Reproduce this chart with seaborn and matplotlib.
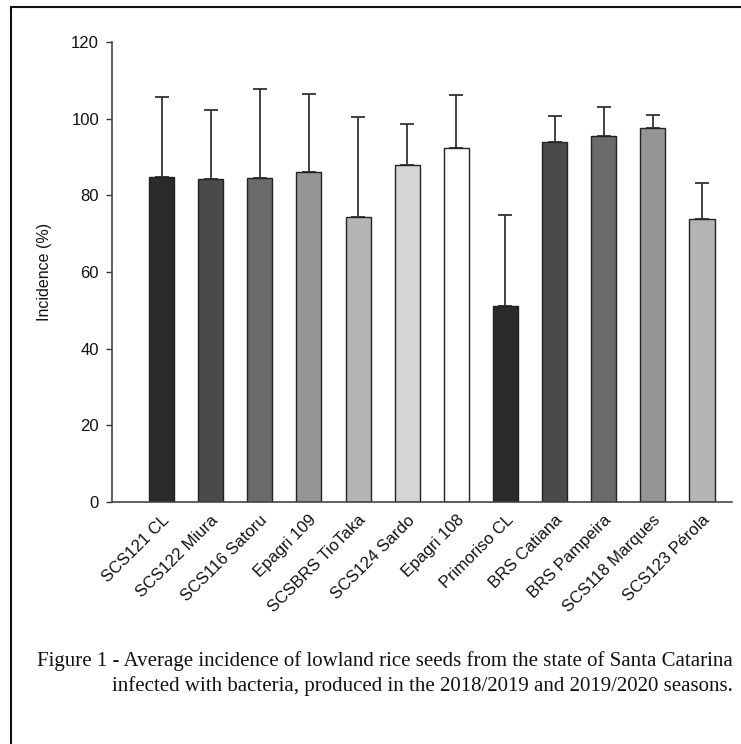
import numpy as np
import pandas as pd
import matplotlib
matplotlib.use("Agg")
import matplotlib.pyplot as plt
from matplotlib.lines import Line2D
import seaborn as sns


cultivars = ["SCS121 CL", "SCS122 Miura", "SCS116 Satoru", "Epagri 109",
             "SCSBRS TioTaka", "SCS124 Sardo", "Epagri 108", "Primoriso CL",
             "BRS Catiana", "BRS Pampeira", "SCS118 Marques", "SCS123 Pérola"]
incidence = [84.8, 84.3, 84.5, 86.0, 74.3, 87.8, 92.4, 51.2, 93.8, 95.6, 97.6, 73.8]
error_up = [20.9, 18.0, 23.3, 20.5, 26.2, 10.9, 13.7, 23.6, 7.0, 7.4, 3.3, 9.5]
bar_colors = ["#2b2b2b", "#4a4a4a", "#6a6a6a", "#959595", "#b5b5b5", "#d5d5d5",
              "#ffffff", "#2b2b2b", "#4a4a4a", "#6a6a6a", "#959595", "#b5b5b5"]
y_ticks = [0, 20, 40, 60, 80, 100, 120]

caption_1 = "Figure 1 - Average incidence of lowland rice seeds from the state of Santa Catarina"
caption_2 = "infected with bacteria, produced in the 2018/2019 and 2019/2020 seasons."

df = pd.DataFrame({"cultivar": cultivars, "incidence": incidence, "err": error_up})

sns.set_style("white")
plt.rcParams["font.family"] = ["Liberation Sans", "DejaVu Sans"]

fig = plt.figure(figsize=(7.41, 7.44), dpi=100)
ax = fig.add_axes([0.1511, 0.3253, 0.8367, 0.6182])

sns.barplot(data=df, x="cultivar", y="incidence", hue="cultivar",
            palette=bar_colors, legend=False, width=0.51,
            edgecolor="#222222", linewidth=1.0, ax=ax, zorder=2)

xpos = np.arange(len(cultivars))
ax.errorbar(xpos, df["incidence"], yerr=[np.zeros(len(cultivars)), df["err"]],
            fmt="none", ecolor="#333333", elinewidth=1.3, capsize=5,
            capthick=1.3, zorder=1)

ax.set_xlim(-1.01, 11.61)
ax.set_ylim(0, 120)
ax.set_yticks(y_ticks)
ax.set_yticklabels([str(t) for t in y_ticks], fontsize=12, color="#111111")
ax.set_xticks(xpos)
ax.set_xticklabels(cultivars, rotation=45, ha="right", va="top",
                   rotation_mode="anchor", fontsize=12, color="#111111")
ax.tick_params(axis="y", which="both", left=True, length=4.3, width=1,
               color="#333333", pad=5)
ax.tick_params(axis="x", bottom=False, pad=4)
ax.set_xlabel("")
ax.set_ylabel("Incidence (%)", fontsize=11.5, color="#111111", labelpad=14)

sns.despine(ax=ax)
for side in ["left", "bottom"]:
    ax.spines[side].set_color("#444444")
    ax.spines[side].set_linewidth(1.2)

# caption in a serif face, like the printed figure
serif = ["Liberation Serif", "DejaVu Serif"]
fig.text(0.989, 0.111, caption_1, ha="right", va="center", fontsize=15,
         family=serif, color="#111111")
fig.text(0.989, 0.078, caption_2, ha="right", va="center", fontsize=15,
         family=serif, color="#111111")

# outer frame (left and top edges visible)
fig.add_artist(Line2D([0.0148, 0.0148], [0, 0.9906], color="#111111", lw=1.5,
                      transform=fig.transFigure))
fig.add_artist(Line2D([0.0148, 1.0], [0.9906, 0.9906], color="#111111", lw=1.5,
                      transform=fig.transFigure))

fig.savefig("out.png", dpi=100)
